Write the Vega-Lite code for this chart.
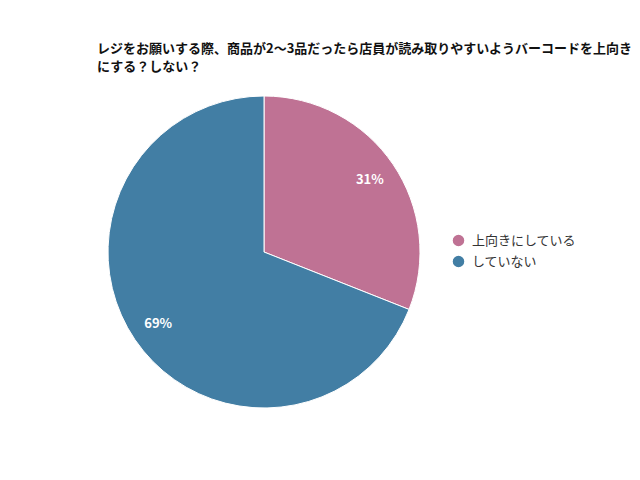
{
  "$schema": "https://vega.github.io/schema/vega-lite/v6.json",
  "width": 334,
  "height": 340,
  "autosize": {"type": "none"},
  "padding": {"left": 97, "top": 82, "right": 209, "bottom": 58},
  "background": "white",
  "title": {
    "text": ["レジをお願いする際、商品が2〜3品だったら店員が読み取りやすいようバーコードを上向き", "にする？しない？"],
    "anchor": "start",
    "frame": "group",
    "font": "Noto Sans CJK JP",
    "fontSize": 13,
    "fontWeight": "bold",
    "color": "#111111",
    "lineHeight": 18,
    "offset": 8
  },
  "data": {
    "values": [
      {"answer": "上向きにしている", "value": 31, "label": "31%"},
      {"answer": "していない", "value": 69, "label": "69%"}
    ]
  },
  "encoding": {
    "theta": {"field": "value", "type": "quantitative", "stack": true},
    "order": {"field": "value", "type": "quantitative", "sort": "ascending"}
  },
  "layer": [
    {
      "mark": {"type": "arc", "outerRadius": 156, "stroke": "white", "strokeWidth": 1},
      "encoding": {
        "color": {
          "field": "answer",
          "type": "nominal",
          "sort": ["上向きにしている", "していない"],
          "scale": {"domain": ["上向きにしている", "していない"], "range": ["#BF7294", "#427EA4"]},
          "legend": {
            "title": null,
            "orient": "none",
            "legendX": 354,
            "legendY": 151,
            "symbolType": "circle",
            "symbolSize": 170,
            "labelFont": "Noto Sans CJK JP",
            "labelFontSize": 13,
            "labelColor": "#333333",
            "rowPadding": 0,
            "labelOffset": 6
          }
        }
      }
    },
    {
      "mark": {"type": "text", "radius": 128, "font": "Noto Sans CJK JP", "fontSize": 13, "fontWeight": "bold", "color": "white"},
      "encoding": {
        "text": {"field": "label"}
      }
    }
  ]
}
